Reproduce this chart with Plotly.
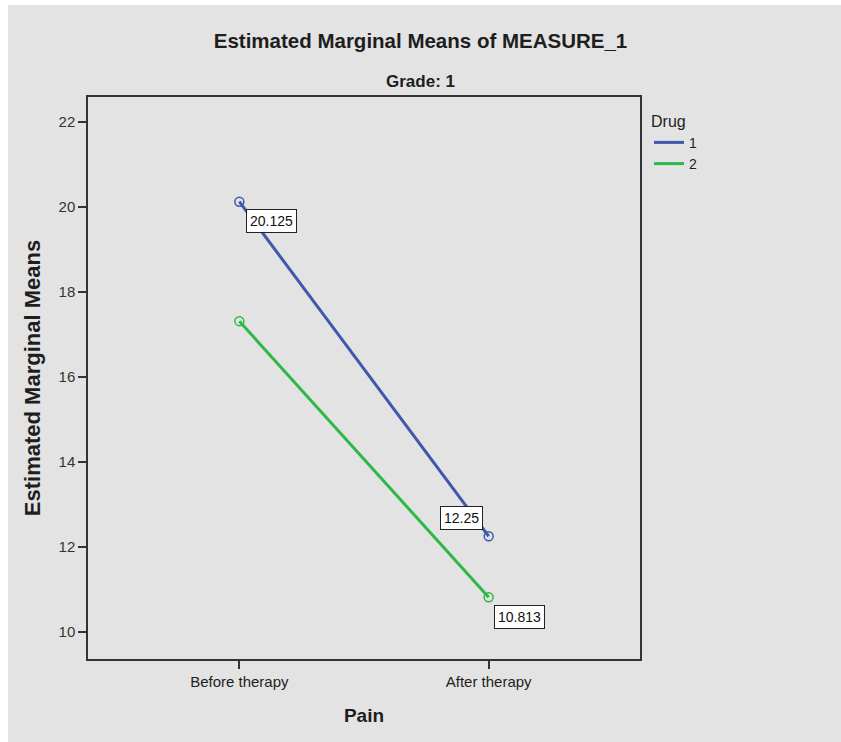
import plotly.graph_objects as go

# ---- data ----
pain_levels = ["Before therapy", "After therapy"]
drug_names = ["1", "2"]
drug1_means = [20.125, 12.25]
drug2_means = [17.313, 10.813]
drug1_labels = ["20.125", "12.25"]
drug2_labels = [None, "10.813"]
y_ticks = [10, 12, 14, 16, 18, 20, 22]

# ---- styles ----
FONT = "Liberation Sans, Arial, sans-serif"
BG = "#e3e3e3"
TXT = "#1e1e1e"
colors = ["#3E58AC", "#2EB848"]

fig = go.Figure()
for name, vals, col in zip(drug_names, [drug1_means, drug2_means], colors):
    fig.add_trace(go.Scatter(
        x=pain_levels, y=vals, name=name, mode="lines", legendgroup=name,
        line=dict(color=col, width=3), hoverinfo="skip",
    ))
    fig.add_trace(go.Scatter(
        x=pain_levels, y=vals, name=name, mode="markers", legendgroup=name,
        showlegend=False,
        marker=dict(symbol="circle-open", size=9, color=col, line=dict(width=1.5, color=col)),
        hoverinfo="skip",
    ))

# value labels (boxed)
offsets = {  # (xshift, yshift) per label position
    ("1", 0): (32, -19),
    ("1", 1): (-27, 18),
    ("2", 1): (31, -20),
}
for name, vals, labs in zip(drug_names, [drug1_means, drug2_means], [drug1_labels, drug2_labels]):
    for i, (cat, v, lab) in enumerate(zip(pain_levels, vals, labs)):
        if lab is None:
            continue
        xs, ys = offsets[(name, i)]
        fig.add_annotation(
            x=cat, y=v, text=lab, showarrow=False, xshift=xs, yshift=ys,
            font=dict(family=FONT, size=14, color="#111"),
            bgcolor="white", bordercolor="#222", borderwidth=1, borderpad=3,
        )

# subtitle
fig.add_annotation(
    x=(420.5 - 88) / 552, y=(659 - 82) / 562, xref="paper", yref="paper",
    text="<b>Grade: 1</b>", showarrow=False, xanchor="center", yanchor="middle",
    font=dict(family=FONT, size=17, color=TXT),
)

# white top/left edges of the picture
fig.add_shape(type="rect", xref="paper", yref="paper",
              x0=(0 - 88) / 552 - 1, x1=(841 - 88) / 552 + 1,
              y0=(659 - 5) / 562, y1=(659 + 10) / 562 + 2,
              fillcolor="white", line=dict(width=0), layer="above")
fig.add_shape(type="rect", xref="paper", yref="paper",
              x0=(0 - 88) / 552 - 1, x1=(8 - 88) / 552,
              y0=-1, y1=3,
              fillcolor="white", line=dict(width=0), layer="above")

fig.update_layout(
    width=841, height=742,
    margin=dict(l=88, r=201, t=97, b=83, autoexpand=False),
    paper_bgcolor=BG, plot_bgcolor=BG,
    font=dict(family=FONT, color=TXT),
    title=dict(text="<b>Estimated Marginal Means of MEASURE_1</b>",
               x=0.5, xanchor="center", xref="container",
               y=1 - 41 / 742, yanchor="middle", yref="container",
               font=dict(family=FONT, size=20.5, color=TXT)),
    showlegend=True,
    legend=dict(
        title=dict(text="Drug", font=dict(family=FONT, size=16, color=TXT)),
        font=dict(family=FONT, size=14, color=TXT),
        x=(649 - 88) / 552, xanchor="left",
        y=(659 - 106) / 562, yanchor="top",
        bgcolor="rgba(0,0,0,0)", tracegroupgap=0, itemwidth=30,
    ),
    xaxis=dict(
        type="category", range=[-0.607, 1.607],
        showline=True, mirror=True, linecolor="#333", linewidth=1.5,
        ticks="outside", ticklen=8, tickwidth=1.5, tickcolor="#333",
        showgrid=False, zeroline=False,
        tickfont=dict(family=FONT, size=15, color=TXT),
        title=dict(text="<b>Pain</b>", standoff=20,
                   font=dict(family=FONT, size=19, color=TXT)),
    ),
    yaxis=dict(
        range=[9.36, 22.59], tickvals=y_ticks,
        showline=True, mirror=True, linecolor="#333", linewidth=1.5,
        ticks="outside", ticklen=8, tickwidth=1.5, tickcolor="#333",
        showgrid=False, zeroline=False,
        tickfont=dict(family=FONT, size=15, color="#333"),
        title=dict(text="<b>Estimated Marginal Means</b>", standoff=12,
                   font=dict(family=FONT, size=22, color=TXT)),
    ),
)

fig.write_html(
    "out.html",
    config={"displayModeBar": False},
    post_script=(
        "document.body.style.margin='0';"
        "document.body.style.overflow='hidden';"
        "document.body.style.background='" + BG + "';"
        "document.documentElement.style.background='" + BG + "';"
    ),
)
